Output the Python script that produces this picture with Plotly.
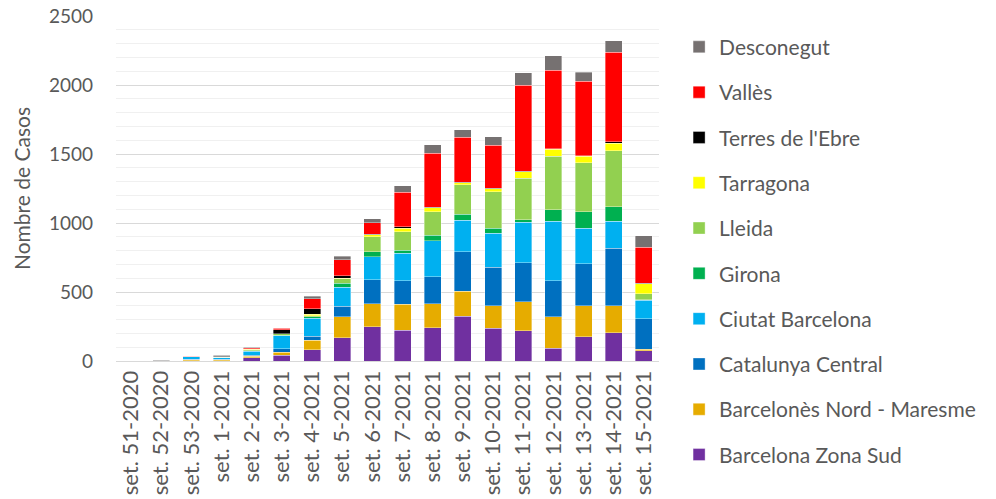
import plotly.graph_objects as go

weeks = ["set. 51-2020", "set. 52-2020", "set. 53-2020", "set. 1-2021", "set. 2-2021",
         "set. 3-2021", "set. 4-2021", "set. 5-2021", "set. 6-2021", "set. 7-2021",
         "set. 8-2021", "set. 9-2021", "set. 10-2021", "set. 11-2021", "set. 12-2021",
         "set. 13-2021", "set. 14-2021", "set. 15-2021"]

barcelona_zona_sud = [0, 1, 2, 3, 25, 41, 80, 170, 250, 222, 241, 326, 237, 220, 92, 176, 205, 75]
barcelones_nord_maresme = [0, 1, 8, 7, 8, 24, 70, 150, 165, 189, 174, 181, 162, 208, 227, 223, 196, 10]
catalunya_central = [0, 0, 4, 3, 8, 22, 31, 75, 175, 169, 196, 285, 280, 284, 263, 306, 416, 222]
ciutat_barcelona = [1, 1, 16, 9, 28, 96, 130, 140, 165, 200, 259, 227, 248, 293, 432, 256, 197, 135]
girona = [0, 0, 1, 3, 7, 5, 10, 30, 36, 24, 41, 44, 34, 19, 82, 119, 102, 3]
lleida = [0, 0, 1, 2, 6, 8, 8, 30, 111, 133, 171, 215, 266, 302, 389, 357, 406, 43]
tarragona = [0, 0, 0, 1, 3, 3, 10, 6, 14, 24, 29, 14, 22, 46, 49, 46, 55, 72]
terres_ebre = [0, 0, 0, 8, 5, 29, 40, 18, 2, 12, 4, 3, 3, 3, 3, 3, 10, 2]
valles = [0, 0, 1, 2, 7, 9, 72, 115, 83, 249, 389, 326, 311, 623, 570, 541, 650, 261]
desconegut = [1, 2, 2, 4, 4, 4, 20, 24, 29, 48, 63, 53, 61, 90, 106, 65, 82, 83]

series_names = ["Barcelona Zona Sud", "Barcelonès Nord - Maresme", "Catalunya Central",
                "Ciutat Barcelona", "Girona", "Lleida", "Tarragona", "Terres de l'Ebre",
                "Vallès", "Desconegut"]
series_values = [barcelona_zona_sud, barcelones_nord_maresme, catalunya_central,
                 ciutat_barcelona, girona, lleida, tarragona, terres_ebre, valles, desconegut]
series_colors = ["#7030A0", "#E6AC00", "#0070C0", "#00B0F0", "#00B050", "#92D050",
                 "#FFFF00", "#000000", "#FF0000", "#767171"]

FONT = "Lato, 'Open Sans', sans-serif"
TXT = "#595959"

fig = go.Figure()
n = len(series_names)
for i, (name, vals, col) in enumerate(zip(series_names, series_values, series_colors)):
    fig.add_trace(go.Bar(
        x=weeks, y=vals, name=name, legendgroup=name, legendrank=100 * (n - i),
        marker=dict(color=col, line=dict(color="rgba(255,255,255,0.6)", width=0.6)),
    ))

fig.update_layout(
    width=996, height=499,
    barmode="stack", bargap=0.44,
    paper_bgcolor="white", plot_bgcolor="white",
    margin=dict(l=116, r=337, t=16, b=138, autoexpand=False),
    font=dict(family=FONT, color=TXT, size=19),
    legend=dict(
        traceorder="grouped", tracegroupgap=15,
        x=1.037, xanchor="left", y=0.969, yanchor="top",
        font=dict(size=21, color=TXT, family=FONT),
        bgcolor="rgba(0,0,0,0)", maxheight=490,
    ),
    showlegend=True,
)
fig.update_yaxes(
    range=[0, 2500], dtick=500, showgrid=True, gridcolor="#D9D9D9", gridwidth=1,
    minor=dict(dtick=100, showgrid=True, gridcolor="#F0F0F0", gridwidth=1),
    zeroline=False, showline=False, ticks="", ticklabelstandoff=22,
    tickfont=dict(size=19, color=TXT, family=FONT),
    title=dict(text="Nombre de Casos", font=dict(size=21, color=TXT, family=FONT), standoff=12),
    automargin=False,
)
fig.update_xaxes(
    tickangle=-90, showline=True, linecolor="#D9D9D9", linewidth=1,
    tickfont=dict(size=22, color=TXT, family=FONT), ticks="", automargin=False,
)

fig.write_html("out.html", config={"displayModeBar": False},
               post_script="document.body.style.margin='0';document.body.style.overflow='hidden';")
